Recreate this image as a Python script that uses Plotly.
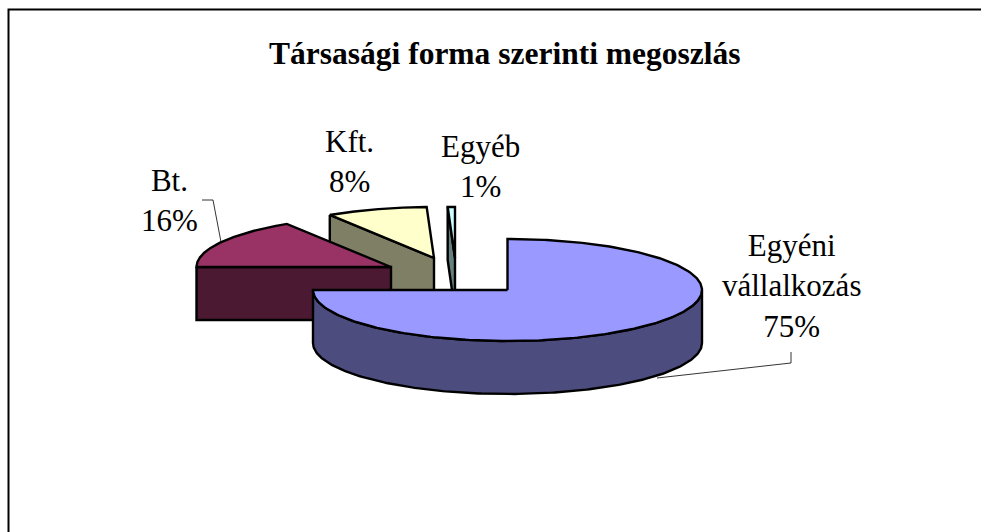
import numpy as np
import plotly.graph_objects as go

title = "Társasági forma szerinti megoszlás"
categories = ["Egyéni vállalkozás", "Bt.", "Kft.", "Egyéb"]
values = [75.0, 16.0, 8.4, 0.6]

top_colors = ["#9999FF", "#993366", "#FFFFCC", "#CCFFFF"]
side_colors = ["#4C4C7F", "#4C1933", "#7F7F66", "#667F7F"]
centers = [(507.5, 290), (391, 267), (434, 258), (455, 258)]
RX, RY, DEPTH = 194.5, 51, 53

label_pos = [(791, 286), (169, 200), (349, 161), (480, 166)]
label_text = ["Egyéni<br>vállalkozás", "Bt.", "Kft.", "Egyéb"]
leaders = [([791, 791, 657], [352, 363, 378]), ([202, 213, 221], [200, 200, 242])]

total = sum(values)
ends = np.cumsum(values) / total * 2 * np.pi
starts = np.concatenate([[0], ends[:-1]])


def ell(c, a):
    return c[0] + RX * np.sin(a), c[1] - RY * np.cos(a)


fig = go.Figure()
LW = 2.4


def poly(xs, ys, color):
    fig.add_trace(go.Scatter(x=list(xs), y=list(ys), mode="lines", fill="toself",
                             fillcolor=color, line=dict(color="black", width=LW),
                             hoverinfo="skip", showlegend=False))


# back to front: the smallest (furthest back) slice first
for i in [3, 2, 1, 0]:
    c = centers[i]
    a0, a1 = starts[i], ends[i]
    # outer wall: only the arc part facing the viewer (pi/2 .. 3pi/2)
    w0, w1 = max(a0, np.pi / 2), min(a1, 3 * np.pi / 2)
    if w1 > w0:
        t = np.linspace(w0, w1, 200)
        x, y = ell(c, t)
        poly(np.r_[x, x[::-1], x[0]], np.r_[y, y[::-1] + DEPTH, y[0]], side_colors[i])
    # cut wall from slice start to tip, visible on left-hand slices
    if a0 > np.pi:
        sx, sy = ell(c, a0)
        poly([sx, c[0], c[0], sx, sx],
             [sy, c[1], c[1] + DEPTH, sy + DEPTH, sy], side_colors[i])
    # top face
    t = np.linspace(a0, a1, 300)
    x, y = ell(c, t)
    poly(np.r_[c[0], x, c[0]], np.r_[c[1], y, c[1]], top_colors[i])

for lx, ly in leaders:
    fig.add_trace(go.Scatter(x=lx, y=ly, mode="lines", line=dict(color="black", width=0.8),
                             hoverinfo="skip", showlegend=False))

for txt, v, (px, py) in zip(label_text, values, label_pos):
    fig.add_annotation(x=px, y=py, xref="x", yref="y", text=f"{txt}<br>{round(v)}%",
                       showarrow=False, xanchor="center", yanchor="middle", align="center",
                       font=dict(family="Liberation Serif", size=31, color="black"))

fig.add_annotation(x=505, y=53, xref="x", yref="y", text=f"<b>{title}</b>", showarrow=False,
                   xanchor="center", yanchor="middle",
                   font=dict(family="Liberation Serif", size=31.5, color="black"))

fig.update_layout(
    width=981, height=532, margin=dict(l=0, r=0, t=0, b=0),
    paper_bgcolor="white", plot_bgcolor="white",
    xaxis=dict(range=[0, 981], visible=False, fixedrange=True),
    yaxis=dict(range=[532, 0], visible=False, fixedrange=True),
    shapes=[dict(type="path", path="M 8.5 540 L 8.5 9.5 L 990 9.5", xref="x", yref="y",
                 line=dict(color="black", width=2))],
)
fig.write_html("out.html", config={"displayModeBar": False},
               post_script="document.body.style.margin='0';document.body.style.overflow='hidden';")
